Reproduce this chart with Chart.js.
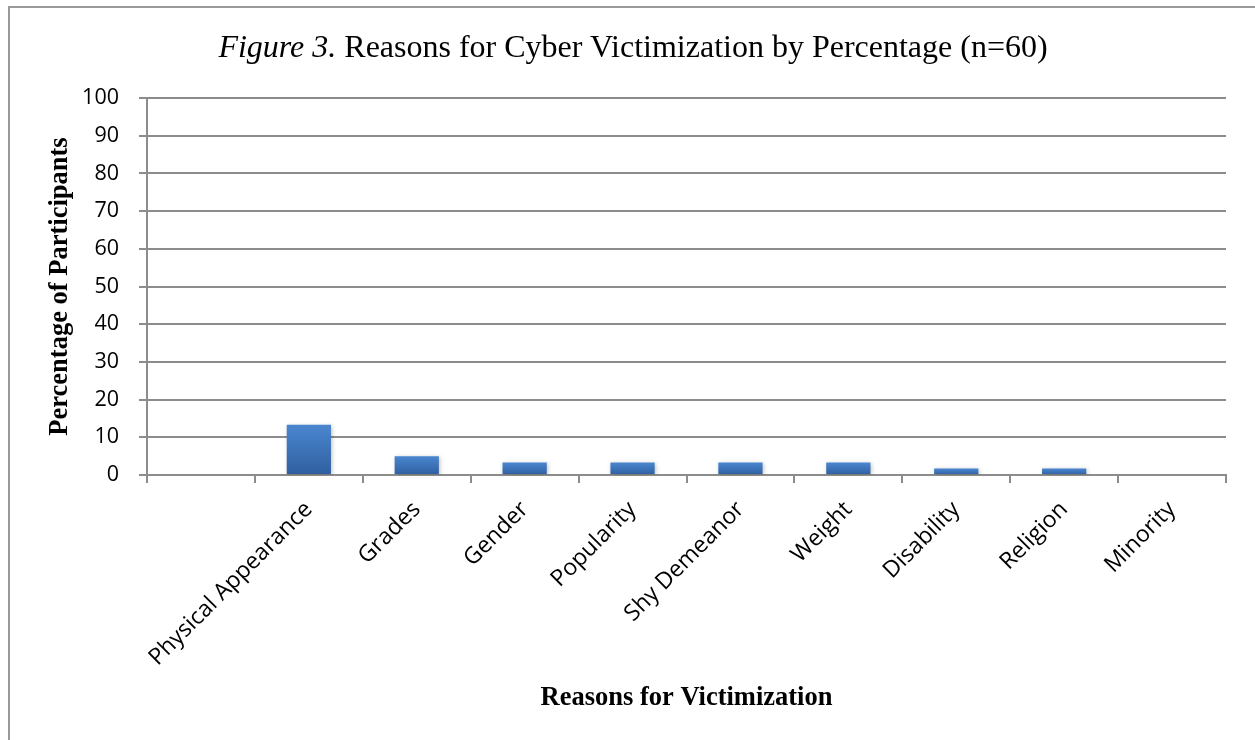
<!DOCTYPE html>
<html>
<head>
<meta charset="utf-8">
<script src="https://cdn.jsdelivr.net/npm/chart.js@4/dist/chart.umd.min.js"></script>
<style>
  html, body { margin: 0; padding: 0; background: #fff; overflow: hidden; }
  #frame {
    position: absolute; left: 8px; top: 6px; width: 1400px; height: 900px;
    border: 2px solid #999; box-sizing: border-box;
  }
  #title {
    position: absolute; left: 0; top: 28px; width: 1266px; text-align: center;
    font-family: "Liberation Serif", "Times New Roman", serif; font-size: 32px;
    line-height: 36px; color: #000; white-space: nowrap;
  }
  #wrap { position: absolute; left: 0; top: 0; width: 1255px; height: 740px; }
</style>
</head>
<body>
<div id="frame"></div>
<div id="wrap"><canvas id="chart"></canvas></div>
<div id="title"><i>Figure 3.</i> Reasons for Cyber Victimization by Percentage (n=60)</div>
<script>
// ===== DATA =====
const reasons = ["", "Physical Appearance", "Grades", "Gender", "Popularity",
  "Shy Demeanor", "Weight", "Disability", "Religion", "Minority"];
const percentages = [0, 13.3, 5, 3.3, 3.3, 3.3, 3.3, 1.7, 1.7, 0];
const yTicks = [0, 10, 20, 30, 40, 50, 60, 70, 80, 90, 100];

const gridColor = "#8c8c8c";

// gradient for each bar (light on top, dark at base)
function barFill(ctx) {
  const chart = ctx.chart;
  const y = chart.scales.y;
  if (!chart.chartArea || !y || ctx.parsed == null) return "#3d73b9";
  const top = y.getPixelForValue(ctx.parsed.y);
  const base = y.getPixelForValue(0);
  if (base - top < 1) return "#3d73b9";
  const g = chart.ctx.createLinearGradient(0, top, 0, base);
  g.addColorStop(0, "#4a86d0");
  g.addColorStop(1, "#2f5f9f");
  return g;
}

// soft shadow under the bars
const barShadow = {
  id: "barShadow",
  beforeDatasetsDraw(chart) {
    const c = chart.ctx;
    c.save();
    c.shadowColor = "rgba(0,0,0,0.25)";
    c.shadowBlur = 4;
    c.shadowOffsetX = 1;
    c.shadowOffsetY = 1;
  },
  afterDatasetsDraw(chart) {
    chart.ctx.restore();
  }
};

new Chart(document.getElementById("chart"), {
  type: "bar",
  data: {
    labels: reasons,
    datasets: [{
      data: percentages,
      backgroundColor: barFill,
      borderWidth: 0,
      barPercentage: 0.41,
      categoryPercentage: 1
    }]
  },
  options: {
    responsive: true,
    maintainAspectRatio: false,
    animation: false,
    layout: { padding: { left: 40, top: 98, right: 29, bottom: 22 } },
    plugins: { legend: { display: false }, tooltip: { enabled: false } },
    scales: {
      x: {
        afterFit: s => { s.height = 243; },
        grid: {
          offset: true, drawOnChartArea: false, drawTicks: true,
          tickLength: 8, color: gridColor, lineWidth: 2
        },
        border: { display: true, color: gridColor, width: 2 },
        ticks: {
          autoSkip: false, minRotation: 45, maxRotation: 45, padding: 13,
          color: "#000", font: { family: "'Open Sans'", size: 23 }
        },
        title: {
          display: true, text: "Reasons for Victimization", color: "#000",
          font: { family: "'Liberation Serif'", size: 26.5, weight: "bold" }
        }
      },
      y: {
        min: 0, max: 100,
        afterFit: s => { s.width = 107; },
        afterBuildTicks: s => { s.ticks = yTicks.map(v => ({ value: v })); },
        grid: { color: gridColor, lineWidth: 2, tickLength: 8 },
        border: { display: true, color: gridColor, width: 2 },
        ticks: {
          padding: 20, color: "#000",
          font: { family: "'Open Sans'", size: 21.5 }
        },
        title: {
          display: true, text: "Percentage of Participants", color: "#000",
          font: { family: "'Liberation Serif'", size: 26.5, weight: "bold" }
        }
      }
    }
  },
  plugins: [barShadow]
});
</script>
</body>
</html>
